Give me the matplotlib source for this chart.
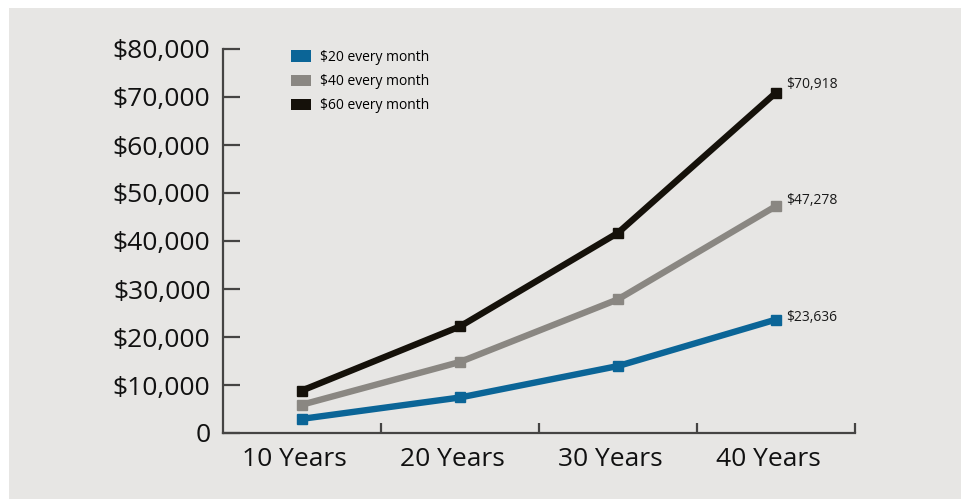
import matplotlib as mpl
import matplotlib.pyplot as plt
from matplotlib.patches import Patch, Rectangle
from matplotlib.ticker import FuncFormatter, FixedLocator
from matplotlib.transforms import ScaledTranslation

mpl.rcParams['font.family'] = ['Open Sans', 'DejaVu Sans']

periods = ["10 Years", "20 Years", "30 Years", "40 Years"]
save_20 = [2950, 7400, 13950, 23636]
save_40 = [5900, 14800, 27850, 47278]
save_60 = [8850, 22200, 41700, 70918]
series_labels = ["$20 every month", "$40 every month", "$60 every month"]

colors = ["#0b6597", "#8a8782", "#15110a"]
bg = "#e7e6e4"
axis_col = "#454443"

fig = plt.figure(figsize=(9.62, 4.99), dpi=100)
fig.patch.set_facecolor("white")
fig.add_artist(Rectangle((9 / 962, 0), 1, 1 - 8 / 499, transform=fig.transFigure,
                         facecolor=bg, edgecolor="none", zorder=-10))

ax = fig.add_axes([223 / 962, 1 - 433 / 499, (855 - 223) / 962, (433 - 49) / 499])
ax.set_facecolor("none")

xpos = [i + 0.5 for i in range(len(periods))]
# end-value labels, raised a bit more for the higher lines
label_dy = [1.5, 4, 6]
for vals, col, dy in zip([save_20, save_40, save_60], colors, label_dy):
    ax.plot(xpos, vals, color=col, lw=4.6, marker="s", ms=7.5,
            solid_capstyle="butt", solid_joinstyle="miter", clip_on=False, zorder=3)
    ax.annotate(f"${vals[-1]:,}", (xpos[-1], vals[-1]), xytext=(7, dy),
                textcoords="offset points", fontsize=10, color="#1a1a1a",
                va="center", ha="left")

ax.set_xlim(0, 4)
ax.set_ylim(0, 80000)
ax.set_yticks(range(0, 80001, 10000))
ax.yaxis.set_major_formatter(FuncFormatter(lambda v, p: "0" if v == 0 else f"${int(v):,}"))

ax.xaxis.set_major_locator(FixedLocator([1, 2, 3, 4]))
ax.xaxis.set_major_formatter(FuncFormatter(lambda v, p: ""))
ax.set_xticks(xpos, periods, minor=True)

for s in ["top", "right"]:
    ax.spines[s].set_visible(False)
for s in ["left", "bottom"]:
    ax.spines[s].set_color(axis_col)
    ax.spines[s].set_linewidth(1.6)

ax.tick_params(axis="y", direction="in", length=12, width=1.6, color=axis_col,
               labelsize=19, labelcolor="#111111", pad=9)
ax.tick_params(axis="x", which="major", direction="in", length=7, width=1.6, color=axis_col)
ax.tick_params(axis="x", which="minor", length=0, labelsize=19, labelcolor="#111111", pad=10)

# category labels sit a little left of the data points
shift = ScaledTranslation(-8 / 100, 0, fig.dpi_scale_trans)
for lbl in ax.xaxis.get_minorticklabels():
    lbl.set_transform(lbl.get_transform() + shift)

handles = [Patch(facecolor=c, edgecolor="none") for c in colors]
ax.legend(handles, series_labels, loc="upper left", bbox_to_anchor=(0.088, 1.03),
          frameon=False, fontsize=10, handlelength=1.4, handleheight=0.9,
          handletextpad=0.7, labelspacing=0.66)

fig.savefig("out.png", dpi=100)
